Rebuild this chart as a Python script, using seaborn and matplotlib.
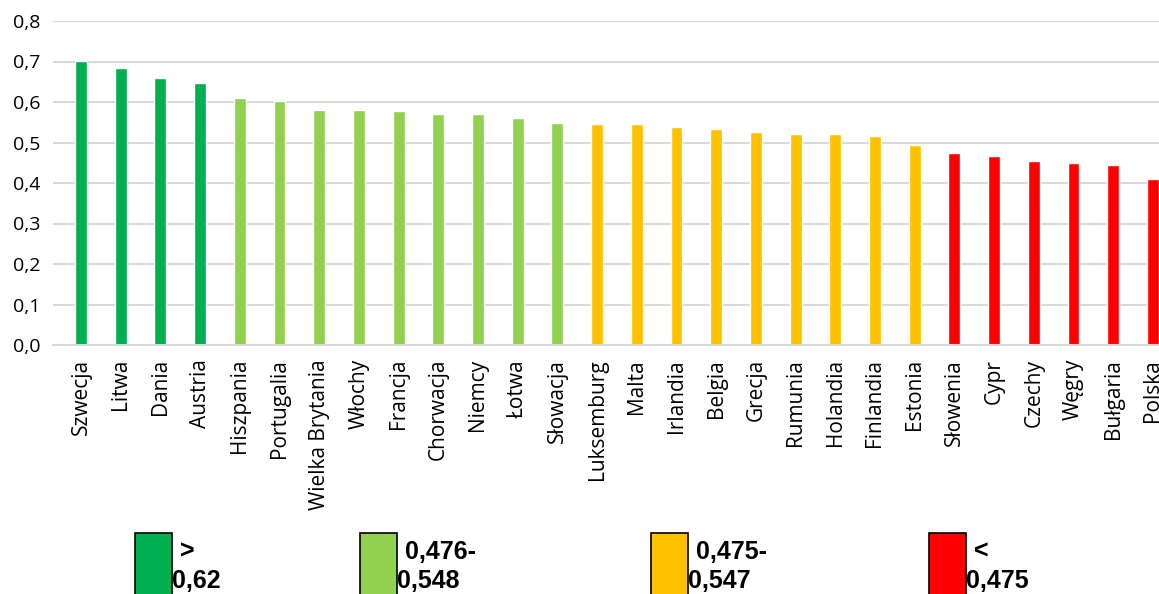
import matplotlib
matplotlib.use("Agg")
import matplotlib.pyplot as plt
from matplotlib.patches import Rectangle
import seaborn as sns
import pandas as pd

# --- data ---
countries = ["Szwecja", "Litwa", "Dania", "Austria", "Hiszpania", "Portugalia",
             "Wielka Brytania", "Włochy", "Francja", "Chorwacja", "Niemcy", "Łotwa",
             "Słowacja", "Luksemburg", "Malta", "Irlandia", "Belgia", "Grecja",
             "Rumunia", "Holandia", "Finlandia", "Estonia", "Słowenia", "Cypr",
             "Czechy", "Węgry", "Bułgaria", "Polska"]
values = [0.701, 0.683, 0.659, 0.646, 0.609, 0.602, 0.580, 0.580, 0.577, 0.570,
          0.570, 0.560, 0.548, 0.545, 0.545, 0.538, 0.533, 0.525, 0.520, 0.520,
          0.515, 0.493, 0.473, 0.466, 0.454, 0.449, 0.444, 0.409]
groups = [0] * 4 + [1] * 9 + [2] * 9 + [3] * 6
group_colors = ["#00B050", "#92D050", "#FFC000", "#FF0000"]
legend_labels = [">\n0,62", "0,476-\n0,548", "0,475-\n0,547", "<\n0,475"]
y_ticks = [0.0, 0.1, 0.2, 0.3, 0.4, 0.5, 0.6, 0.7, 0.8]
y_tick_labels = ["0,0", "0,1", "0,2", "0,3", "0,4", "0,5", "0,6", "0,7", "0,8"]

df = pd.DataFrame({"Kraj": countries, "Wartosc": values})
bar_colors = {c: group_colors[g] for c, g in zip(countries, groups)}

sns.set_style("white")
plt.rcParams["font.family"] = ["Open Sans", "DejaVu Sans"]
plt.rcParams["text.color"] = "black"
plt.rcParams["xtick.color"] = "black"
plt.rcParams["ytick.color"] = "black"

W, H = 1159, 594
fig = plt.figure(figsize=(W / 100, H / 100), dpi=100)

# plot area runs past the right edge, as in the reference (Polska is clipped)
step = 39.7      # pixels per category
x0_px = 81       # centre of the first bar
left_px = 53
ax_w = 1.2
ax = fig.add_axes([left_px / W, 1 - 345 / H, ax_w, (345 - 21) / H])

sns.barplot(data=df, x="Kraj", y="Wartosc", hue="Kraj", palette=bar_colors,
            width=0.3, legend=False, saturation=1, ax=ax)

xmin = -(x0_px - left_px) / step
ax.set_xlim(xmin, xmin + ax_w * W / step)
ax.set_ylim(0, 0.8)
ax.set_yticks(y_ticks)
ax.set_yticklabels(y_tick_labels, fontsize=14)
ax.set_xlabel("")
ax.set_ylabel("")
ax.tick_params(axis="y", length=0, pad=9)
ax.tick_params(axis="x", length=0, pad=10)
for lbl in ax.get_xticklabels():
    lbl.set_rotation(90)
    lbl.set_fontsize(15)
    lbl.set_va("top")

ax.yaxis.grid(True, color="#d9d9d9", linewidth=1.5)
ax.set_axisbelow(True)
for side in ["top", "right", "left"]:
    ax.spines[side].set_visible(False)
ax.spines["bottom"].set_color("#d9d9d9")
ax.spines["bottom"].set_linewidth(1.5)

# --- hand-made legend along the bottom ---
box_x = [135, 360, 651, 929]
for bx, col, lab in zip(box_x, group_colors, legend_labels):
    fig.patches.append(Rectangle((bx / W, -0.01), 37 / W, 61 / H + 0.01,
                                 transform=fig.transFigure, facecolor=col,
                                 edgecolor="black", linewidth=1.2))
    first, second = lab.split("\n")
    fig.text((bx + 45) / W, 1 - 552 / H, first, fontsize=18, fontweight="bold",
             family="Liberation Sans", va="center", ha="left")
    fig.text((bx + 37) / W, 1 - 581 / H, second, fontsize=18, fontweight="bold",
             family="Liberation Sans", va="center", ha="left")

fig.savefig("out.png", dpi=100)
